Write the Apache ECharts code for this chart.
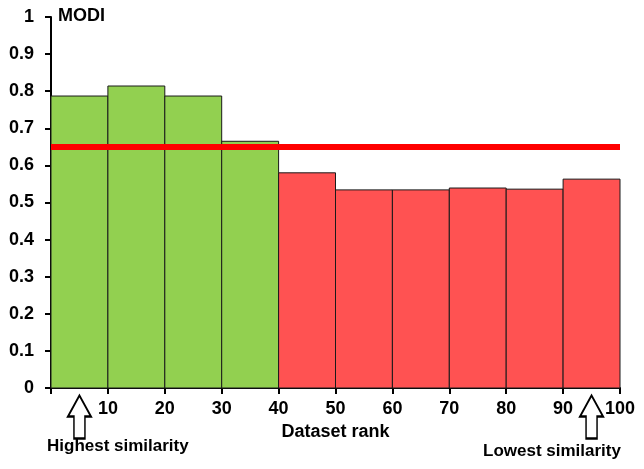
<!DOCTYPE html>
<html>
<head>
<meta charset="utf-8">
<script src="https://cdn.jsdelivr.net/npm/echarts@6/dist/echarts.min.js"></script>
<style>
  html, body { margin: 0; padding: 0; background: #fff; }
  #chart { width: 644px; height: 469px; }
</style>
</head>
<body>
<div id="chart"></div>
<script>
  // rank bins (start, end) and MODI value of each bin
  const binStarts = [0, 10, 20, 30, 40, 50, 60, 70, 80, 90];
  const binWidth = 10;
  const modiValues = [0.787, 0.814, 0.787, 0.665, 0.58, 0.534, 0.534, 0.539, 0.536, 0.563];
  const threshold = 0.65;
  // arrows under the axis
  const arrowRanks = [5, 95];
  const arrowTexts = ['Highest similarity', 'Lowest similarity'];

  const font = '"Liberation Sans", Arial, sans-serif';

  const aboveData = [];
  const belowData = [];
  binStarts.forEach(function (s, i) {
    const row = [s, s + binWidth, modiValues[i]];
    if (modiValues[i] > threshold) aboveData.push(row);
    else belowData.push(row);
  });

  const renderBin = function (params, api) {
    const topLeft = api.coord([api.value(0), api.value(2)]);
    const bottomRight = api.coord([api.value(1), 0]);
    return {
      type: 'rect',
      shape: {
        x: topLeft[0],
        y: topLeft[1],
        width: bottomRight[0] - topLeft[0],
        height: bottomRight[1] - topLeft[1],
      },
      style: {
        fill: api.visual('color'),
        stroke: '#1a1a1a',
        lineWidth: 1,
      },
    };
  };

  const arrowPath = 'path://M11.5,0 L23,21 L17,21 L17,43 L6,43 L6,21 L0,21 Z';

  const option = {
    animation: false,
    grid: { left: 51, right: 24, top: 17, bottom: 81 },
    xAxis: {
      type: 'value',
      min: 0,
      max: 100,
      interval: 10,
      name: 'Dataset rank',
      nameLocation: 'middle',
      nameGap: 34,
      nameTextStyle: { color: '#000', fontFamily: font, fontWeight: 'bold', fontSize: 18 },
      axisLine: { lineStyle: { color: '#000', width: 2 } },
      axisTick: { show: true, length: 6, lineStyle: { color: '#000', width: 2 } },
      axisLabel: {
        color: '#000',
        fontFamily: font,
        fontWeight: 'bold',
        fontSize: 18,
        margin: 12,
        formatter: function (v) { return v === 0 ? '' : v; },
      },
      splitLine: { show: false },
    },
    yAxis: {
      type: 'value',
      min: 0,
      max: 1,
      interval: 0.1,
      axisLine: { show: true, lineStyle: { color: '#000', width: 2 } },
      axisTick: { show: true, length: 6, lineStyle: { color: '#000', width: 2 } },
      axisLabel: {
        color: '#000',
        fontFamily: font,
        fontWeight: 'bold',
        fontSize: 18,
        margin: 17,
        formatter: function (v) { return +v.toFixed(1); },
      },
      splitLine: { show: false },
    },
    graphic: [
      {
        type: 'text',
        left: 58,
        top: 7,
        style: { text: 'MODI', fill: '#000', font: 'bold 18px ' + font },
      },
      {
        type: 'text',
        left: 47,
        top: 438,
        style: { text: arrowTexts[0], fill: '#000', font: 'bold 17px ' + font },
      },
      {
        type: 'text',
        left: 483,
        top: 443,
        style: { text: arrowTexts[1], fill: '#000', font: 'bold 17px ' + font },
      },
    ],
    series: [
      {
        type: 'custom',
        renderItem: renderBin,
        itemStyle: { color: '#92D050' },
        encode: { x: [0, 1], y: 2 },
        data: aboveData,
        z: 2,
      },
      {
        type: 'custom',
        renderItem: renderBin,
        itemStyle: { color: '#FF5252' },
        encode: { x: [0, 1], y: 2 },
        data: belowData,
        z: 2,
        markLine: {
          silent: true,
          symbol: 'none',
          label: { show: false },
          lineStyle: { color: '#FF0000', width: 6, type: 'solid' },
          data: [{ yAxis: threshold }],
        },
      },
      {
        type: 'scatter',
        clip: false,
        symbol: arrowPath,
        symbolSize: [23, 43],
        symbolOffset: [0, 29],
        itemStyle: { color: '#fff', borderColor: '#000', borderWidth: 2, opacity: 1 },
        data: arrowRanks.map(function (r) { return [r, 0]; }),
        z: 5,
      },
    ],
  };

  const myChart = echarts.init(document.getElementById('chart'));
  option && myChart.setOption(option);
</script>
</body>
</html>
